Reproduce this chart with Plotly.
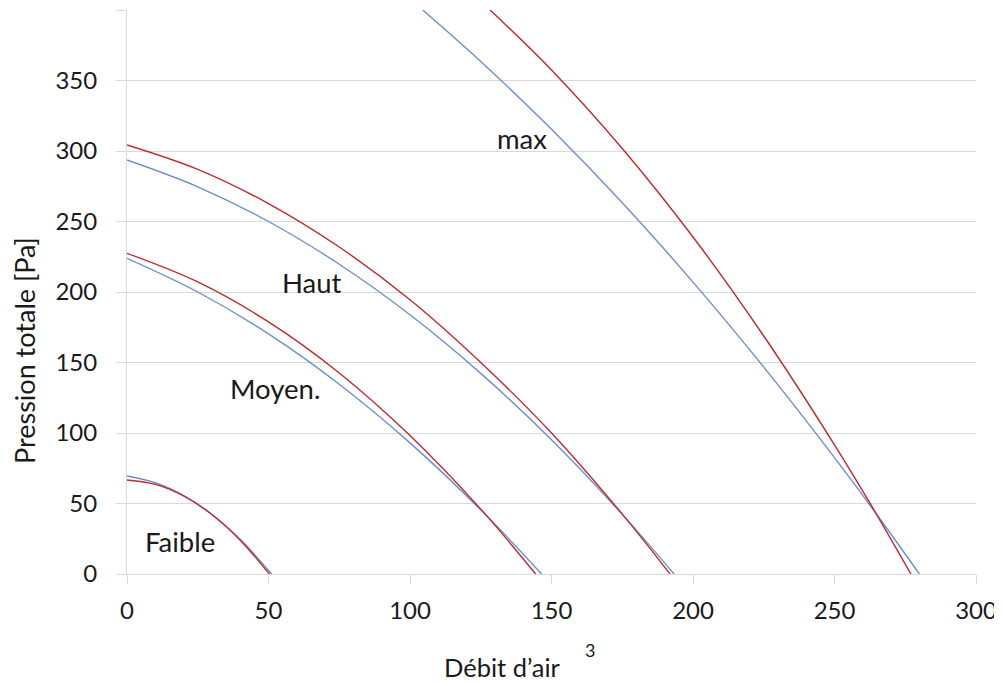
import plotly.graph_objects as go

# ---- data ----
faible_red_x = [0, 10, 20, 30, 40, 50.3]
faible_red_y = [66.7, 63.6, 55.4, 42.2, 24.0, 0]
faible_blue_x = [0, 10, 20, 30, 40, 51.1]
faible_blue_y = [69.5, 64.7, 55.6, 42.2, 24.6, 0]

moyen_red_x = [0, 25, 50, 75, 100, 125, 144.4]
moyen_red_y = [227.4, 207.1, 178.8, 142.6, 98.2, 46.0, 0]
moyen_blue_x = [0, 25, 50, 75, 100, 125, 146.5]
moyen_blue_y = [223.9, 200.0, 170.3, 134.6, 93.0, 45.5, 0]

haut_red_x = [0, 25, 50, 75, 100, 125, 150, 175, 191.9]
haut_red_y = [304.3, 287.0, 262.7, 231.9, 194.5, 150.0, 100.0, 42.5, 0]
haut_blue_x = [0, 25, 50, 75, 100, 125, 150, 175, 193.3]
haut_blue_y = [293.6, 274.6, 250.0, 219.7, 183.9, 142.3, 95.2, 42.3, 0]

max_red_x = [128.3, 150, 175, 200, 225, 250, 263, 277.0]
max_red_y = [400, 357.5, 301.8, 239.0, 168.8, 91.6, 48.6, 0]
max_blue_x = [104.5, 125, 150, 175, 200, 225, 250, 265, 280.0]
max_blue_y = [400, 363.5, 315.4, 263.3, 207.0, 146.7, 82.5, 42.0, 0]

curve_labels = ["max", "Haut", "Moyen.", "Faible"]
curve_label_x = [139.5, 65.5, 52.3, 18.9]
curve_label_y = [308.9, 206.4, 131.6, 23]

x_ticks = [0, 50, 100, 150, 200, 250, 300]
y_ticks = [0, 50, 100, 150, 200, 250, 300, 350, 400]
y_ticktext = ["0", "50", "100", "150", "200", "250", "300", "350", ""]

RED = "#C0282E"
BLUE = "#6B8FCC"
GRID = "#D9D9D9"
FONT = "Lato, 'Open Sans', sans-serif"
TXT = "#1a1a1a"

fig = go.Figure()
pairs = [
    (faible_blue_x, faible_blue_y, faible_red_x, faible_red_y),
    (moyen_blue_x, moyen_blue_y, moyen_red_x, moyen_red_y),
    (haut_blue_x, haut_blue_y, haut_red_x, haut_red_y),
    (max_blue_x, max_blue_y, max_red_x, max_red_y),
]
for bx, by, rx, ry in pairs:
    fig.add_trace(go.Scatter(x=bx, y=by, mode="lines",
                             line=dict(color=BLUE, width=1.4, shape="spline", smoothing=1.0),
                             hoverinfo="skip", showlegend=False))
for bx, by, rx, ry in pairs:
    fig.add_trace(go.Scatter(x=rx, y=ry, mode="lines",
                             line=dict(color=RED, width=1.4, shape="spline", smoothing=1.0),
                             hoverinfo="skip", showlegend=False))

annotations = []
for t, ax_, ay_ in zip(curve_labels, curve_label_x, curve_label_y):
    annotations.append(dict(x=ax_, y=ay_, xref="x", yref="y", text=t, showarrow=False,
                            font=dict(family=FONT, size=27.5, color=TXT),
                            xanchor="center", yanchor="middle"))
annotations.append(dict(x=0.4423, y=-0.165, xref="paper", yref="paper", text="Débit d’air",
                        showarrow=False, font=dict(family=FONT, size=25.5, color=TXT),
                        xanchor="center", yanchor="middle"))
annotations.append(dict(x=0.5453, y=-0.1348, xref="paper", yref="paper", text="3",
                        showarrow=False, font=dict(family=FONT, size=18, color=TXT),
                        xanchor="center", yanchor="middle"))
annotations.append(dict(x=-0.1201, y=0.3954, xref="paper", yref="paper", text="Pression totale [Pa]",
                        showarrow=False, textangle=-90, borderpad=0,
                        font=dict(family=FONT, size=27, color=TXT), xanchor="center", yanchor="middle"))

# the page body adds an 8px offset; sizes below compensate for it
fig.update_layout(
    width=994, height=676,
    margin=dict(l=119, r=26, t=2, b=110),
    paper_bgcolor="white", plot_bgcolor="white",
    font=dict(family=FONT, size=24, color=TXT),
    annotations=annotations,
    xaxis=dict(range=[0, 300], tickvals=x_ticks, showgrid=False, zeroline=False,
               showline=True, linecolor=GRID, linewidth=1, automargin=False,
               ticks="outside", ticklen=9, tickcolor=GRID, tickwidth=1,
               ticklabelstandoff=6,
               tickfont=dict(family=FONT, size=24, color=TXT)),
    yaxis=dict(range=[0, 400], tickvals=y_ticks, ticktext=y_ticktext,
               showgrid=True, gridcolor=GRID, gridwidth=1, zeroline=False,
               showline=True, linecolor=GRID, linewidth=1, automargin=False,
               ticks="outside", ticklen=10, tickcolor=GRID, tickwidth=1,
               ticklabelstandoff=14,
               tickfont=dict(family=FONT, size=24, color=TXT)),
)

fig.write_html("out.html")
